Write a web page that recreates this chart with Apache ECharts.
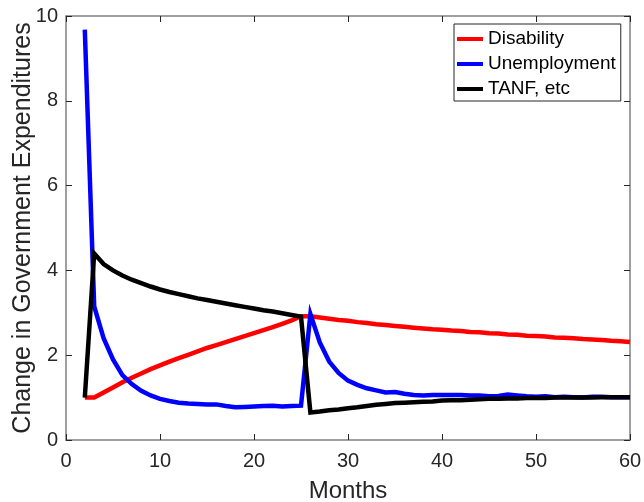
<!DOCTYPE html>
<html>
<head>
<meta charset="utf-8">
<script src="https://cdn.jsdelivr.net/npm/echarts@6/dist/echarts.min.js"></script>
<style>html,body{margin:0;padding:0;background:#fff}#c{width:644px;height:502px}</style>
</head>
<body>
<div id="c"></div>
<script>
var months = [];
for (var m = 2; m <= 60; m++) months.push(m);

var disability = [1.0,1.0,1.12,1.24,1.36,1.47,1.57,1.67,1.76,1.85,1.93,2.01,2.09,2.17,2.24,2.31,2.38,2.45,2.52,2.59,2.66,2.74,2.82,2.92,2.92,2.89,2.86,2.83,2.81,2.78,2.76,2.73,2.71,2.69,2.67,2.65,2.63,2.61,2.60,2.58,2.57,2.55,2.54,2.52,2.51,2.49,2.48,2.46,2.45,2.44,2.42,2.41,2.40,2.38,2.37,2.36,2.34,2.33,2.31];

var unemployment = [9.68,3.15,2.4,1.9,1.53,1.32,1.16,1.05,0.97,0.92,0.88,0.86,0.85,0.84,0.84,0.80,0.77,0.78,0.79,0.80,0.81,0.79,0.80,0.81,2.97,2.3,1.85,1.58,1.40,1.30,1.22,1.17,1.12,1.13,1.09,1.06,1.05,1.06,1.06,1.06,1.06,1.05,1.05,1.03,1.04,1.07,1.05,1.03,1.02,1.03,1.01,1.02,1.01,1.00,1.02,1.02,1.01,1.01,1.01];

var tanf = [1.0,4.4,4.15,4.0,3.88,3.78,3.70,3.62,3.55,3.49,3.44,3.39,3.34,3.30,3.26,3.22,3.18,3.14,3.10,3.06,3.03,2.99,2.95,2.91,0.65,0.67,0.70,0.72,0.75,0.77,0.80,0.83,0.85,0.87,0.88,0.89,0.90,0.91,0.93,0.94,0.94,0.95,0.96,0.97,0.97,0.98,0.98,0.99,0.99,0.99,1.0,1.0,1.0,1.0,1.0,1.01,1.01,1.01,1.01];

var seriesNames = ['Disability','Unemployment','TANF, etc'];
var seriesColors = ['#ff0000','#0000ff','#000000'];
var xTicks = [0,10,20,30,40,50,60];
var yTicks = [0,2,4,6,8,10];

function pairs(vals){ return months.map(function(mm,i){ return [mm, vals[i]]; }); }

var font = 'Liberation Sans, Arial, Helvetica, sans-serif';
var axisColor = '#262626';

var chart = echarts.init(document.getElementById('c'), null, {renderer:'canvas'});

function xAxisCfg(pos, show){
  return {
    type:'value', position:pos, min:xTicks[0], max:xTicks[xTicks.length-1], interval:10,
    name: show ? 'Months' : '', nameLocation:'middle', nameGap:39, nameMoveOverlap:false,
    nameTextStyle:{fontFamily:font, fontSize:24, color:axisColor},
    axisLine:{show:true, onZero:false, lineStyle:{color:'#808080', width:1.5}},
    axisTick:{show:true, inside:true, length:6, lineStyle:{color:axisColor}},
    axisLabel:{show:show, fontFamily:font, fontSize:20, color:axisColor, margin:11},
    splitLine:{show:false}
  };
}
function yAxisCfg(pos, show){
  return {
    type:'value', position:pos, min:yTicks[0], max:yTicks[yTicks.length-1], interval:2,
    name: show ? 'Change in Government Expenditures' : '', nameLocation:'middle', nameGap:30, nameMoveOverlap:false,
    nameTextStyle:{fontFamily:font, fontSize:25, color:axisColor},
    axisLine:{show:true, onZero:false, lineStyle:{color:'#808080', width:1.5}},
    axisTick:{show:true, inside:true, length:6, lineStyle:{color:axisColor}},
    axisLabel:{show:show, fontFamily:font, fontSize:20, color:axisColor, margin:8},
    splitLine:{show:false}
  };
}

var vals = [disability, unemployment, tanf];
var series = seriesNames.map(function(n,i){
  return {
    name:n, type:'line', data:pairs(vals[i]), xAxisIndex:0, yAxisIndex:0,
    showSymbol:false, symbol:'none', smooth:false,
    lineStyle:{color:seriesColors[i], width:4.5, join:'miter'},
    itemStyle:{color:seriesColors[i]},
    animation:false
  };
});

chart.setOption({
  backgroundColor:'#ffffff',
  animation:false,
  grid:{left:66, right:14, top:16, bottom:62, containLabel:false, outerBoundsMode:'none'},
  legend:{
    data:seriesNames, orient:'vertical', left:454, top:24,
    backgroundColor:'#ffffff', borderColor:'#262626', borderWidth:1,
    padding:[5,5,2,3], itemGap:5, itemWidth:26, itemHeight:4, icon:'rect',
    textStyle:{fontFamily:font, fontSize:19, color:'#000', lineHeight:20},
    selectedMode:false
  },
  xAxis:[xAxisCfg('bottom', true), xAxisCfg('top', false)],
  yAxis:[yAxisCfg('left', true), yAxisCfg('right', false)],
  series:series
});
</script>
</body>
</html>
